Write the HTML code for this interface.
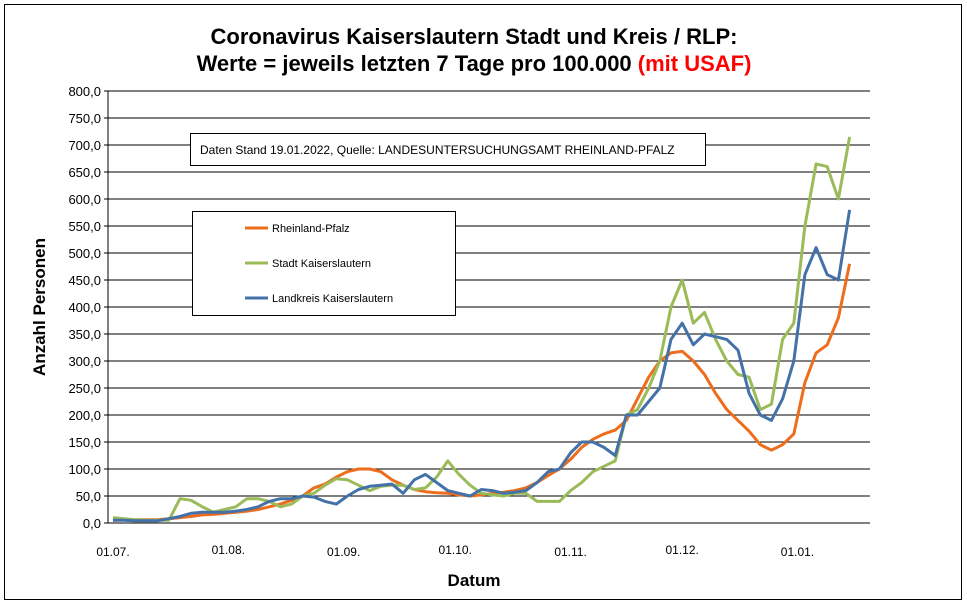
<!DOCTYPE html>
<html><head><meta charset="utf-8"><style>
body{margin:0;background:#fff;}
svg{display:block;font-family:"Liberation Sans",Arial,sans-serif;}
</style></head><body>
<svg id="chart" width="967" height="605">
<rect x="4.5" y="4.5" width="957" height="595" fill="#fff" stroke="#000" stroke-width="1"/>
<text x="474" y="44" text-anchor="middle" font-size="22" font-weight="bold">Coronavirus Kaiserslautern Stadt und Kreis / RLP:</text>
<text x="474" y="71" text-anchor="middle" font-size="22" font-weight="bold">Werte = jeweils letzten 7 Tage pro 100.000 <tspan fill="#ff0000">(mit USAF)</tspan></text>
<g id="grid"></g>
<g id="series"></g>
<text transform="translate(45,307) rotate(-90)" text-anchor="middle" font-size="17" font-weight="bold">Anzahl Personen</text>
<text x="474" y="586" text-anchor="middle" font-size="17" font-weight="bold">Datum</text>
<g>
<rect x="190.5" y="133.5" width="515" height="32" fill="#fff" stroke="#000"/>
<text x="200" y="154" font-size="12">Daten Stand 19.01.2022, Quelle: LANDESUNTERSUCHUNGSAMT RHEINLAND-PFALZ</text>
</g>
<g>
<rect x="192.5" y="211.5" width="263" height="104" fill="#fff" stroke="#000"/>
<line x1="245" y1="228" x2="268" y2="228" stroke="#ed6d1c" stroke-width="3"/>
<text x="272" y="232" font-size="11">Rheinland-Pfalz</text>
<line x1="245" y1="263" x2="268" y2="263" stroke="#9bbb59" stroke-width="3"/>
<text x="272" y="267" font-size="11">Stadt Kaiserslautern</text>
<line x1="245" y1="298" x2="268" y2="298" stroke="#4472a8" stroke-width="3"/>
<text x="272" y="302" font-size="11">Landkreis Kaiserslautern</text>
</g>
</svg>
<script>
const yTicks=[0,50,100,150,200,250,300,350,400,450,500,550,600,650,700,750,800];
const xTickLabels=["01.07.","01.08.","01.09.","01.10.","01.11.","01.12.","01.01."];
const xTickDays=[0,31,62,92,123,153,184];
const stepDays=3;
const rlp=[5,6,6,6,6,8,10,12,15,16,18,20,22,25,30,35,42,50,65,72,85,95,100,100,95,80,70,62,58,56,55,52,50,52,55,57,60,65,75,88,100,118,140,155,165,172,190,230,270,300,315,318,300,275,240,210,190,170,145,135,145,165,260,315,330,380,480];
const stadt=[10,8,6,5,5,5,45,42,30,20,25,30,45,45,40,30,35,50,55,70,82,80,70,60,68,70,70,62,65,85,115,90,70,55,52,50,55,55,40,40,40,60,75,95,105,115,200,210,250,300,400,450,370,390,340,300,275,270,210,220,340,370,550,665,660,600,715];
const landkreis=[5,5,4,4,4,8,12,18,20,20,20,22,25,30,40,45,45,50,48,40,35,50,62,68,70,72,55,80,90,75,60,55,50,62,60,55,57,60,75,95,100,130,150,150,140,125,200,200,225,250,340,370,330,350,345,340,320,240,200,190,230,300,460,510,460,450,580];
const X0=108,X1=870,Y0=523,PX_DAY=3.72,PX_UNIT=0.54;
function xs(d){return 113+d*PX_DAY;}
function ys(v){return Y0-v*PX_UNIT;}
const NS="http://www.w3.org/2000/svg";
const grid=document.getElementById('grid');
yTicks.forEach(v=>{
 const l=document.createElementNS(NS,'line');
 l.setAttribute('x1',X0-4);l.setAttribute('x2',X1);l.setAttribute('y1',ys(v));l.setAttribute('y2',ys(v));
 l.setAttribute('stroke','#000');l.setAttribute('stroke-width','1');
 
 
 grid.appendChild(l);
 const t=document.createElementNS(NS,'text');
 t.setAttribute('x',X0-7);t.setAttribute('y',ys(v)+5);t.setAttribute('text-anchor','end');t.setAttribute('font-size','13');
 t.textContent=v.toFixed(1).replace('.',',');
 
 
 grid.appendChild(t);
});
const ax=document.createElementNS(NS,'line');
ax.setAttribute('x1',X0);ax.setAttribute('x2',X0);ax.setAttribute('y1',ys(800));ax.setAttribute('y2',Y0);ax.setAttribute('stroke','#000');


grid.appendChild(ax);
xTickLabels.forEach((s,i)=>{
 const t=document.createElementNS(NS,'text');
 t.setAttribute('x',xs(xTickDays[i]));t.setAttribute('y',i%2?554:556);t.setAttribute('text-anchor','middle');t.setAttribute('font-size','12');
 t.textContent=s;
 
 
 grid.appendChild(t);
});
const sg=document.getElementById('series');
[[rlp,'#ed6d1c','line-rheinland-pfalz'],[stadt,'#9bbb59','line-stadt-kaiserslautern'],[landkreis,'#4472a8','line-landkreis-kaiserslautern']].forEach(([arr,c,n])=>{
 const p=document.createElementNS(NS,'polyline');
 p.setAttribute('points',arr.map((v,i)=>xs(i*stepDays).toFixed(1)+','+ys(v).toFixed(1)).join(' '));
 p.setAttribute('fill','none');p.setAttribute('stroke',c);p.setAttribute('stroke-width','3');p.setAttribute('stroke-linejoin','round');
 
 
 sg.appendChild(p);
});
</script>
</body></html>
